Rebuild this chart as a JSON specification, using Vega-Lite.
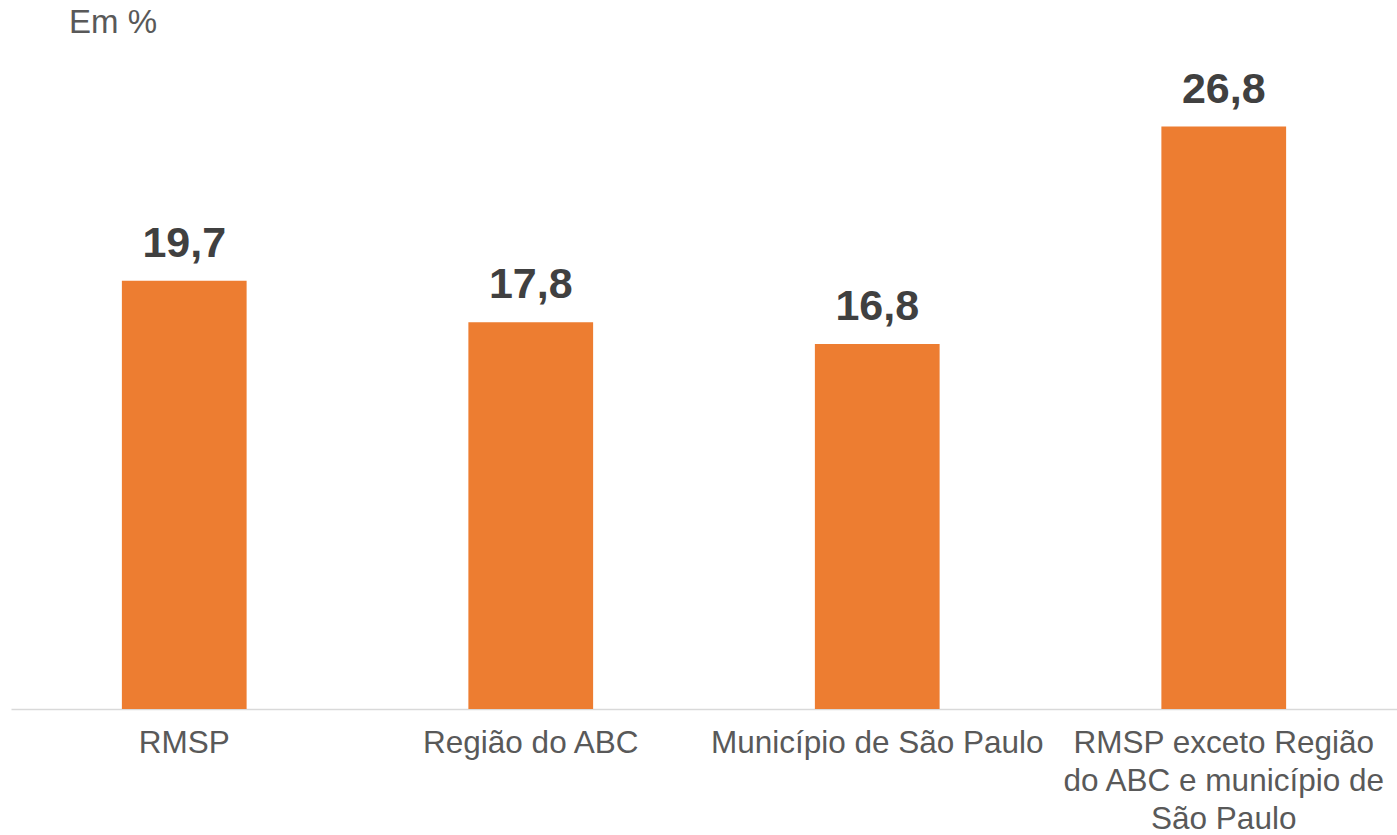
{
  "$schema": "https://vega.github.io/schema/vega-lite/v6.json",
  "autosize": {"type": "none"},
  "padding": {"left": 11, "top": 57, "right": 0, "bottom": 126},
  "width": 1386,
  "height": 652,
  "config": {
    "view": {"stroke": null},
    "font": "Liberation Sans",
    "locale": {"number": {"decimal": ",", "thousands": ".", "grouping": [3], "currency": ["R$", ""]}}
  },
  "title": {
    "text": "Em %",
    "anchor": "start",
    "frame": "group",
    "dx": 58,
    "offset": 17,
    "fontSize": 33,
    "fontWeight": "normal",
    "color": "#595959",
    "font": "Liberation Sans"
  },
  "data": {
    "values": [
      {"regiao": "RMSP", "valor": 19.7},
      {"regiao": "Região do ABC", "valor": 17.8},
      {"regiao": "Município de São Paulo", "valor": 16.8},
      {"regiao": "RMSP exceto Região do ABC e município de São Paulo", "valor": 26.8}
    ]
  },
  "encoding": {
    "x": {
      "field": "regiao",
      "type": "nominal",
      "sort": null,
      "scale": {"paddingInner": 0.64, "paddingOuter": 0.32},
      "axis": {
        "title": null,
        "labelAngle": 0,
        "ticks": false,
        "domainColor": "#d9d9d9",
        "domainWidth": 1.5,
        "labelFontSize": 31.5,
        "labelColor": "#595959",
        "labelPadding": 18,
        "labelLineHeight": 38,
        "labelLimit": 0,
        "labelExpr": "datum.value == 'RMSP exceto Região do ABC e município de São Paulo' ? ['RMSP exceto Região', 'do ABC e município de', 'São Paulo'] : datum.label"
      }
    },
    "y": {
      "field": "valor",
      "type": "quantitative",
      "scale": {"domain": [0, 30], "nice": false},
      "axis": null
    }
  },
  "layer": [
    {"mark": {"type": "bar", "color": "#ED7D31"}},
    {
      "mark": {"type": "text", "baseline": "alphabetic", "dy": -24, "fontSize": 43, "fontWeight": "bold", "color": "#404040"},
      "encoding": {"text": {"field": "valor", "type": "quantitative", "format": ".1f"}}
    }
  ]
}
